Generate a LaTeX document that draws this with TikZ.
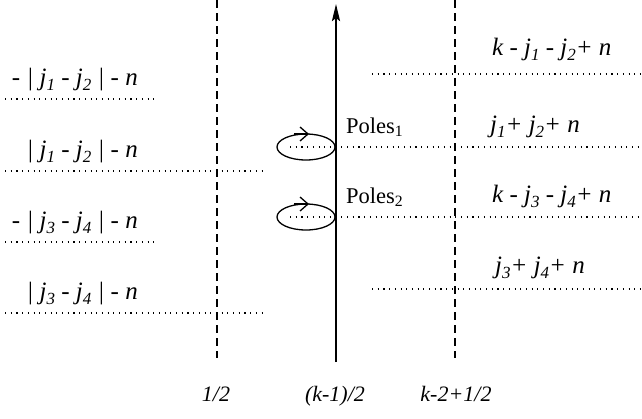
\documentclass[tikz,border=0pt]{standalone}
\usepackage{fontspec}
\setmainfont{Liberation Serif}
\usetikzlibrary{arrows.meta}
% lowered italic index
\newcommand{\ix}[1]{\raisebox{-0.45ex}{\fontsize{17}{17}\selectfont #1}}
\tikzset{
  lab/.style={font=\fontsize{25}{27}\selectfont\itshape, inner sep=0pt},
  axlab/.style={font=\fontsize{22}{24}\selectfont\itshape, inner sep=0pt, anchor=base},
  polelab/.style={font=\fontsize{22.5}{24}\selectfont, inner sep=0pt, anchor=base west},
  dotline/.style={line width=1.1pt, dash pattern=on 1.1pt off 4.6pt},
  dashline/.style={line width=1.5pt, dash pattern=on 8pt off 5pt},
  contour/.style={line width=1.3pt},
}
\begin{document}
\begin{tikzpicture}[x=1pt, y=-1pt]
  \useasboundingbox (0,0) rectangle (642,418);

  % vertical lines: Re = 1/2, axis (k-1)/2, k-2+1/2
  \coordinate (HalfTop) at (217,0);   \coordinate (HalfBot) at (217,358);
  \coordinate (AxisBot) at (336,362); \coordinate (AxisTop) at (336,4);
  \coordinate (KTop)    at (455,0);   \coordinate (KBot)    at (455,358);
  \draw[dashline] (HalfTop) -- (HalfBot);
  \draw[dashline] (KTop) -- (KBot);
  \draw[line width=2.4pt, -{Stealth[length=17pt, width=8pt, inset=3pt]}] (AxisBot) -- (AxisTop);

  % left rows of poles
  \draw[dotline] (5,99)  -- (158,99);
  \draw[dotline] (5,171) -- (265,171);
  \draw[dotline] (5,242) -- (158,242);
  \draw[dotline] (5,313) -- (265,313);
  \node[lab, anchor=base east] (l1) at (138,85)  {- | j\ix{1} - j\ix{2} | - n};
  \node[lab, anchor=base east] (l2) at (138,157) {| j\ix{1} - j\ix{2} | - n};
  \node[lab, anchor=base east] (l3) at (138,228) {- | j\ix{3} - j\ix{4} | - n};
  \node[lab, anchor=base east] (l4) at (138,299) {| j\ix{3} - j\ix{4} | - n};

  % right rows of poles
  \draw[dotline] (372,74)  -- (640,74);
  \draw[dotline] (290,147) -- (640,147);
  \draw[dotline] (290,217) -- (640,217);
  \draw[dotline] (372,289) -- (640,289);
  \node[lab, anchor=base west] (r1) at (492,55)  {k - j\ix{1} - j\ix{2}+ n};
  \node[lab, anchor=base west] (r2) at (490,132) {j\ix{1}+ j\ix{2}+ n};
  \node[lab, anchor=base west] (r3) at (492,202) {k - j\ix{3} - j\ix{4}+ n};
  \node[lab, anchor=base west] (r4) at (495,273) {j\ix{3}+ j\ix{4}+ n};

  % contours round the two pole sets
  \draw[contour] (306,147) ellipse [x radius=29, y radius=13];
  \draw[contour] (306,217) ellipse [x radius=29, y radius=13];
  \draw[contour, -{Straight Barb[length=8pt, width=14pt]}] (294,134) -- (309,134);
  \draw[contour, -{Straight Barb[length=8pt, width=14pt]}] (294,204) -- (309,204);
  \node[polelab] (p1) at (346,133) {Poles\textsubscript{1}};
  \node[polelab] (p2) at (346,203) {Poles\textsubscript{2}};

  % abscissae
  \node[axlab] (x1) at (216,401) {1/2};
  \node[axlab] (x2) at (335,401) {(k-1)/2};
  \node[axlab] (x3) at (456,401) {k-2+1/2};
\end{tikzpicture}
\end{document}
